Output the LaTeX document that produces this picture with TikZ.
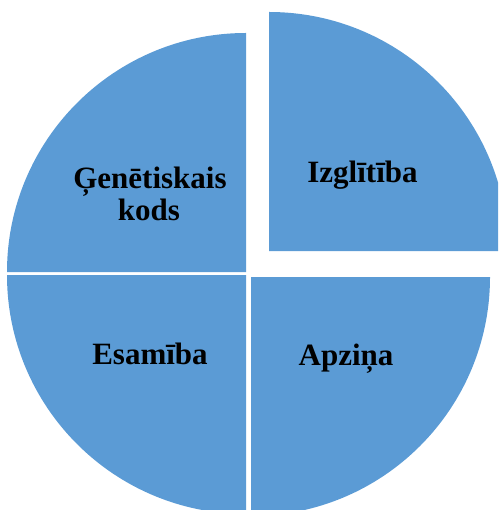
\documentclass[tikz,border=0pt]{standalone}
\usepackage{fontspec}
\setmainfont{Liberation Serif}
\definecolor{pieblue}{HTML}{5B9BD5}
\begin{document}
\begin{tikzpicture}[x=1pt,y=1pt,
  slice/.style={fill=pieblue},
  lbl/.style={anchor=base,inner sep=0pt,font=\fontsize{31}{32}\selectfont\bfseries,align=center}]
\useasboundingbox (0,0) rectangle (498,-510);
\clip (0,0) rectangle (498,-510);
% top-left
\fill[slice] (246,-272) -- ++(-239,0) arc[start angle=180,end angle=90,radius=239pt] -- cycle;
% bottom-left
\fill[slice] (246,-275) -- ++(0,-239) arc[start angle=270,end angle=180,radius=239pt] -- cycle;
% bottom-right
\fill[slice] (251,-277) -- ++(239,0) arc[start angle=0,end angle=-90,radius=239pt] -- cycle;
% top-right (exploded)
\fill[slice] (269,-251) -- ++(0,239) arc[start angle=90,end angle=0,radius=239pt] -- cycle;
\node[lbl] (gen) at (150,-189) {Ģenētiskais};
\node[lbl] (kods) at (149,-221) {kods};
\node[lbl] (izg) at (362.5,-183) {Izglītība};
\node[lbl] (esa) at (150,-364) {Esamība};
\node[lbl] (apz) at (346,-365) {Apziņa};
\end{tikzpicture}
\end{document}
